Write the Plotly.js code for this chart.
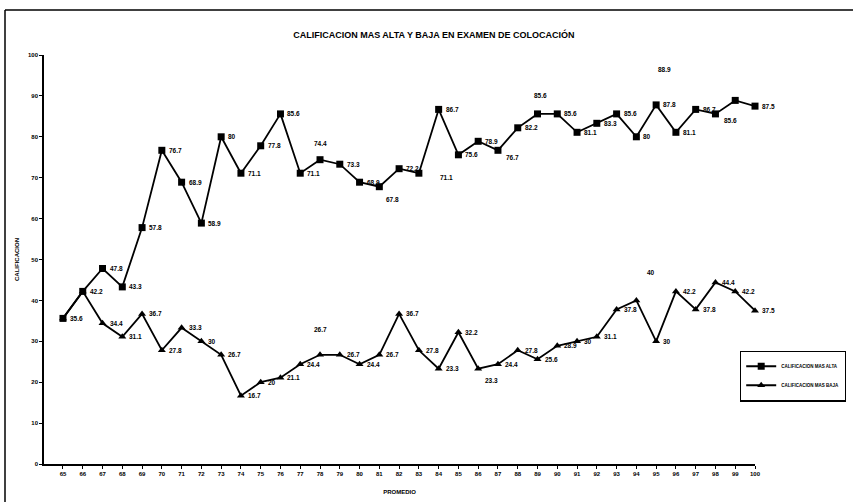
<!DOCTYPE html>
<html>
<head>
<meta charset="utf-8">
<script src="https://cdn.plot.ly/plotly-3.0.1.min.js"></script>
<style>html,body{margin:0;padding:0;background:#fff;overflow:hidden;}#chart{width:854px;height:503px;}</style>
</head>
<body>
<div id="chart"></div>
<script>
const categories = ['65','66','67','68','69','70','71','72','73','74','75','76','77','78','79','80','81','82','83','84','85','86','87','88','89','90','91','92','93','94','95','96','97','98','99','100'];
const highVals = [35.6, 42.2, 47.8, 43.3, 57.8, 76.7, 68.9, 58.9, 80, 71.1, 77.8, 85.6, 71.1, 74.4, 73.3, 68.9, 67.8, 72.2, 71.1, 86.7, 75.6, 78.9, 76.7, 82.2, 85.6, 85.6, 81.1, 83.3, 85.6, 80, 87.8, 81.1, 86.7, 85.6, 88.9, 87.5];
const lowVals = [35.6, 42.2, 34.4, 31.1, 36.7, 27.8, 33.3, 30, 26.7, 16.7, 20, 21.1, 24.4, 26.7, 26.7, 24.4, 26.7, 36.7, 27.8, 23.3, 32.2, 23.3, 24.4, 27.8, 25.6, 28.9, 30, 31.1, 37.8, 40, 30, 42.2, 37.8, 44.4, 42.2, 37.5];
const seriesNames = ['CALIFICACION MAS ALTA', 'CALIFICACION MAS BAJA'];
const yTicks = [0, 10, 20, 30, 40, 50, 60, 70, 80, 90, 100];

// label placement style (offsets in px)
const highLabelStyle = {'78':[0,16,'center'], '81':[13,-13,'center'], '83':[19,-4,'left'], '87':[6,-7,'left'], '89':[3,18,'center'], '98':[7,-7,'left'], '99':[-71,31,'center']};
const lowLabelStyle = {'78':[0,25,'center'], '86':[5,-12,'left'], '94':[15,28,'center']};
const lowNoLabel = ['65','66'];

const fontFam = 'Liberation Sans, Arial, sans-serif';
const lineStyle = {color:'#000', width:1.8};

const traces = [
  {x: categories, y: highVals, name: seriesNames[0], type:'scatter', mode:'lines+markers',
   line: lineStyle, marker:{symbol:'square', size:7, color:'#000'}, cliponaxis:false},
  {x: categories, y: lowVals, name: seriesNames[1], type:'scatter', mode:'lines+markers',
   line: lineStyle, marker:{symbol:'triangle-up', size:7, color:'#000'}, cliponaxis:false}
];

const annotations = [];
function addLabels(vals, style, skip){
  categories.forEach((c,i)=>{
    if (skip && skip.includes(c)) return;
    const s = style[c] || [5,0,'left'];
    annotations.push({x:i, y:vals[i], xref:'x', yref:'y', text:String(vals[i]), showarrow:false,
      xanchor:s[2], yanchor:'middle', xshift:s[0], yshift:s[1],
      font:{family:fontFam, size:6.5, color:'#000', weight:'bold'}});
  });
}
addLabels(highVals, highLabelStyle, null);
addLabels(lowVals, lowLabelStyle, lowNoLabel);

const layout = {
  width:854, height:503,
  margin:{l:44, r:99, t:55, b:39, pad:0, autoexpand:false},
  paper_bgcolor:'#fff', plot_bgcolor:'#fff',
  font:{family:fontFam, color:'#000', size:6, weight:'bold'},
  title:{text:'CALIFICACION MAS ALTA Y BAJA EN EXAMEN DE COLOCACIÓN', x:0.508, xanchor:'center', y:0.93, yanchor:'middle',
         font:{family:fontFam, size:9, color:'#000', weight:'bold'}},
  showlegend:true,
  legend:{x:(846-44)/711, xanchor:'right', y:0.215, yanchor:'middle', bordercolor:'#000', borderwidth:1.2, bgcolor:'#fff',
          font:{family:fontFam, size:4.5, color:'#000', weight:'bold'}, tracegroupgap:0, itemwidth:30},
  xaxis:{type:'category', range:[-0.96, 35], showline:true, linecolor:'#000', linewidth:1.6, showgrid:false, zeroline:false,
         ticks:'outside', ticklen:3, tickcolor:'#000', tickfont:{family:fontFam, size:6, color:'#000', weight:'bold'},
         tickangle:0, title:{text:'PROMEDIO', font:{family:fontFam, size:6, color:'#000', weight:'bold'}, standoff:14}},
  yaxis:{range:[0,100], tickvals:yTicks, showline:true, linecolor:'#000', linewidth:1.8, showgrid:false, zeroline:false,
         ticks:'outside', ticklen:3, tickcolor:'#000', tickfont:{family:fontFam, size:6, color:'#000', weight:'bold'},
         title:{text:'CALIFICACION', font:{family:fontFam, size:6, color:'#000', weight:'bold'}, standoff:8}},
  annotations: annotations,
  shapes:[
    {type:'line', xref:'paper', yref:'paper', x0:(5-44)/711, x1:(853-44)/711, y0:(464-10)/409, y1:(464-10)/409, line:{color:'#000', width:1.5}},
    {type:'line', xref:'paper', yref:'paper', x0:(5-44)/711, x1:(5-44)/711, y0:(464-10)/409, y1:(464-502)/409, line:{color:'#000', width:1.5}}
  ]
};

Plotly.newPlot('chart', traces, layout, {displayModeBar:false, staticPlot:true});
</script>
</body>
</html>
